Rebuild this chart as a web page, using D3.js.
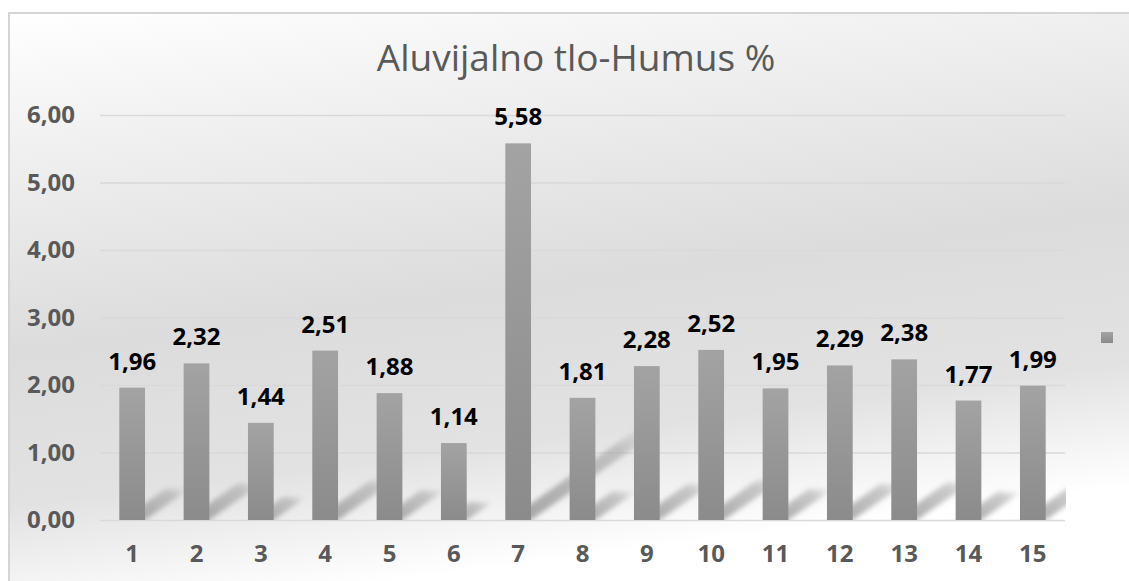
<!DOCTYPE html>
<html>
<head>
<meta charset="utf-8">
<script src="https://cdn.jsdelivr.net/npm/d3@7/dist/d3.min.js"></script>
<style>
  html, body { margin: 0; padding: 0; background: #ffffff; }
  #chart { width: 1129px; height: 581px; }
  text { font-family: "Open Sans", "DejaVu Sans", sans-serif; }
</style>
</head>
<body>
<div id="chart"></div>
<script>
//Datos del gráfico
const TITLE = 'Aluvijalno tlo-Humus %';
const categories = ['1','2','3','4','5','6','7','8','9','10','11','12','13','14','15'];
const humus = [1.96, 2.32, 1.44, 2.51, 1.88, 1.14, 5.58, 1.81, 2.28, 2.52, 1.95, 2.29, 2.38, 1.77, 1.99];
const yTicks = [0, 1, 2, 3, 4, 5, 6];

//Colores fijos
const COLOR_TEXT = '#595959',
COLOR_LABEL = '#000000',
COLOR_GRID = '#d9d9d9',
COLOR_BORDER = '#d4d4d4';

const fmt = function(v) { return d3.format('.2f')(v).replace('.', ','); };

let totalW = 1129, totalH = 581;
let margin = {top: 115, right: 64, bottom: 61, left: 100},
    width = totalW - margin.left - margin.right,
    height = totalH - margin.top - margin.bottom;

let svg = d3.select('#chart')
    .append('svg')
    .attr('width', totalW)
    .attr('height', totalH);

let defs = svg.append('defs');

//Fondo degradado
let bg = defs.append('linearGradient').attr('id', 'bgGrad')
    .attr('x1', 0).attr('y1', 0).attr('x2', 0.25).attr('y2', 1);
bg.append('stop').attr('offset', '0%').attr('stop-color', '#ffffff');
bg.append('stop').attr('offset', '18%').attr('stop-color', '#f3f3f3');
bg.append('stop').attr('offset', '55%').attr('stop-color', '#dcdcdc');
bg.append('stop').attr('offset', '80%').attr('stop-color', '#e2e2e2');
bg.append('stop').attr('offset', '93%').attr('stop-color', '#f5f5f5');
bg.append('stop').attr('offset', '100%').attr('stop-color', '#ffffff');

//Barras degradadas
let barGrad = defs.append('linearGradient').attr('id', 'barGrad')
    .attr('x1', 0).attr('y1', 0).attr('x2', 0).attr('y2', 1);
barGrad.append('stop').attr('offset', '0%').attr('stop-color', '#a3a3a3');
barGrad.append('stop').attr('offset', '100%').attr('stop-color', '#8b8b8b');

//Sombras
let shGrad = defs.append('linearGradient').attr('id', 'shGrad')
    .attr('x1', 0).attr('y1', 1).attr('x2', 1).attr('y2', 0);
shGrad.append('stop').attr('offset', '0%').attr('stop-color', '#888888').attr('stop-opacity', 0.75);
shGrad.append('stop').attr('offset', '75%').attr('stop-color', '#999999').attr('stop-opacity', 0.5);
shGrad.append('stop').attr('offset', '100%').attr('stop-color', '#aaaaaa').attr('stop-opacity', 0.05);

defs.append('filter').attr('id', 'blur')
    .attr('x', '-30%').attr('y', '-30%').attr('width', '160%').attr('height', '160%')
    .append('feGaussianBlur').attr('stdDeviation', 2.5);

defs.append('clipPath').attr('id', 'plotClip')
    .append('rect')
    .attr('x', 0).attr('y', 0)
    .attr('width', width + 1).attr('height', height);

svg.append('rect')
    .attr('x', 9).attr('y', 13)
    .attr('width', totalW).attr('height', totalH)
    .attr('fill', 'url(#bgGrad)')
    .attr('stroke', COLOR_BORDER)
    .attr('stroke-width', 2);

//Título
svg.append('text')
    .attr('x', 576)
    .attr('y', 71)
    .attr('text-anchor', 'middle')
    .attr('fill', COLOR_TEXT)
    .style('font-size', '37px')
    .text(TITLE);

let g = svg.append('g')
    .attr('transform', 'translate(' + margin.left + ',' + margin.top + ')');

let x = d3.scaleBand()
    .domain(categories)
    .range([0, width])
    .paddingInner(0.6)
    .paddingOuter(0.3);

let y = d3.scaleLinear()
    .domain([0, 6])
    .range([height, 0]);

//Rejilla + eje Y
let yAxis = g.append('g')
    .call(d3.axisLeft(y).tickValues(yTicks).tickSize(-width).tickPadding(25).tickFormat(fmt));
yAxis.select('.domain').remove();
yAxis.selectAll('.tick line').attr('stroke', COLOR_GRID).attr('stroke-width', 1.5);
yAxis.selectAll('.tick text')
    .attr('fill', COLOR_TEXT)
    .style('font-size', '24px')
    .style('font-weight', '700');

//Sombras de las barras
let angle = 35 * Math.PI / 180,
    shadowPerUnit = 28;

g.append('g')
    .attr('clip-path', 'url(#plotClip)')
    .selectAll('polygon')
    .data(humus)
    .enter()
    .append('polygon')
    .attr('points', function(d, i) {
        let x0 = x(categories[i]) + 2, x1 = x(categories[i]) + x.bandwidth(),
            len = (y(0) - y(d)) / (y(0) - y(1)) * shadowPerUnit,
            dx = Math.cos(angle) * len, dy = -Math.sin(angle) * len;
        return [[x0, y(0)], [x1, y(0)], [x1 + dx, y(0) + dy], [x0 + dx, y(0) + dy]].join(' ');
    })
    .attr('fill', 'url(#shGrad)')
    .attr('filter', 'url(#blur)');

//Barras
g.append('g')
    .selectAll('rect')
    .data(humus)
    .enter()
    .append('rect')
    .attr('x', function(d, i) { return x(categories[i]); })
    .attr('y', function(d) { return y(d); })
    .attr('width', x.bandwidth())
    .attr('height', function(d) { return y(0) - y(d); })
    .attr('fill', 'url(#barGrad)');

//Etiquetas de datos
g.append('g')
    .selectAll('text')
    .data(humus)
    .enter()
    .append('text')
    .attr('x', function(d, i) { return x(categories[i]) + x.bandwidth() / 2; })
    .attr('y', function(d) { return y(d) - 18; })
    .attr('text-anchor', 'middle')
    .attr('fill', COLOR_LABEL)
    .style('font-size', '24px')
    .style('font-weight', '700')
    .text(function(d) { return fmt(d); });

//Eje X
let xAxis = g.append('g')
    .attr('transform', 'translate(0,' + height + ')')
    .call(d3.axisBottom(x).tickSize(0).tickPadding(25));
xAxis.select('.domain').remove();
xAxis.selectAll('.tick text')
    .attr('fill', COLOR_TEXT)
    .style('font-size', '24px')
    .style('font-weight', '700');

//Leyenda
svg.append('rect')
    .attr('x', 1101).attr('y', 332)
    .attr('width', 12).attr('height', 11)
    .attr('fill', 'url(#barGrad)');
</script>
</body>
</html>
